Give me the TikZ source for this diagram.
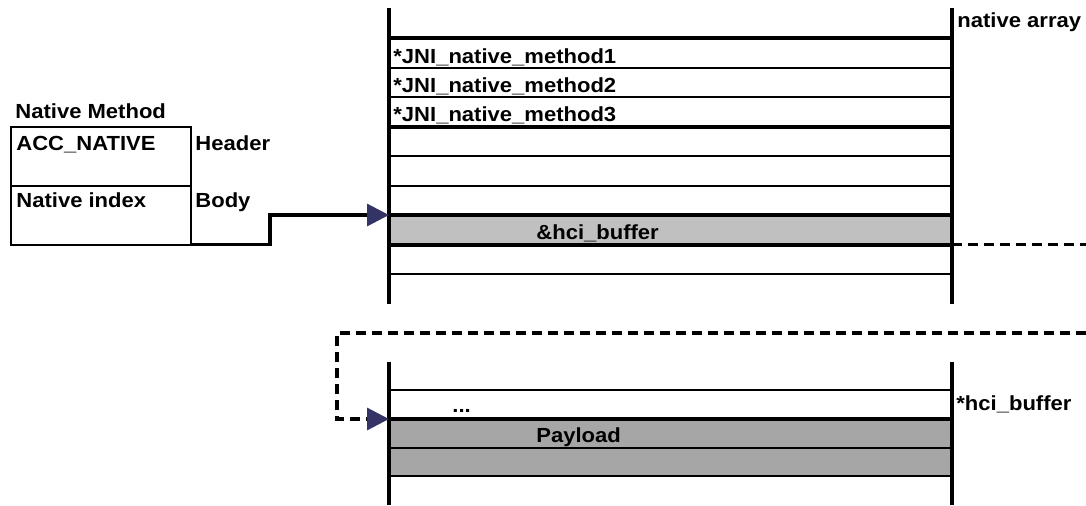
\documentclass[tikz,border=0pt]{standalone}
\usepackage{fontspec}
\setmainfont{Liberation Sans}[FakeStretch=1.08]
\usepackage{xcolor}
\usepackage{tikz}
\usetikzlibrary{arrows.meta, positioning}
\definecolor{ptrnavy}{HTML}{333366}
\definecolor{addrgray}{HTML}{C0C0C0}
\definecolor{bufgray}{HTML}{A6A6A6}
\tikzset{
  wall/.style={line width=2pt},
  thinrow/.style={line width=1pt},
  thickrow/.style={line width=2pt},
  field/.style={rectangle, draw, line width=1pt, outer sep=0pt, minimum width=90pt, minimum height=29.5pt, inner sep=0pt},
  slot/.style={rectangle, inner sep=0pt, outer sep=0pt, minimum width=281.5pt},
  lbl/.style={font=\fontsize{10.2}{12}\selectfont\bfseries, inner sep=0pt, anchor=base west},
  wire/.style={line width=1.6pt},
  dashwire/.style={wire, dash pattern=on 5pt off 3pt},
  navyhead/.style={-{Triangle[length=11pt, width=11pt, color=ptrnavy]}},
}

\begin{document}
\begin{tikzpicture}[x=0.5pt, y=-0.5pt]
\useasboundingbox (0,0) rectangle (1086,505);
% native method record
\node[field] (hdr) at (101,156) {};
\node[field, below=0pt of hdr] (bdy) {};
\node[lbl] (nmtitle) at (15,118) {Native Method};
\node[lbl] (acc) at (16,150) {ACC\_NATIVE}; \node[lbl] (hdrname) at (195,150) {Header};
\node[lbl] (idx) at (16,207) {Native index}; \node[lbl] (bdyname) at (195,207) {Body};
% native array
\node[slot, fill=addrgray, minimum height=14.75pt] (hcicell) at (670.5,229.75) {};
\draw[wall] (389,8) -- (389,303.5); \draw[wall] (952,8) -- (952,303.5);
\foreach \y in {67.5,97,156,185.5,274} \draw[thinrow] (389,\y) -- (952,\y);
\foreach \y in {38,126.5,215,244.5} \draw[thickrow] (389,\y) -- (952,\y);
\node[lbl] (arrname) at (957,27) {native array};
\node[lbl] (jni1) at (393,63) {*JNI\_native\_method1};
\node[lbl] (jni2) at (393,92) {*JNI\_native\_method2};
\node[lbl] (jni3) at (393,121) {*JNI\_native\_method3};
\node[lbl] (hciaddr) at (536,239) {\&hci\_buffer};
% hci buffer
\node[slot, fill=bufgray, minimum height=14.5pt] (payload) at (670.5,433.5) {};
\node[slot, fill=bufgray, minimum height=14pt] (bufrest) at (670.5,462) {};
\draw[wall] (389,362) -- (389,505); \draw[wall] (952,362) -- (952,505);
\foreach \y in {390,448,476} \draw[thinrow] (389,\y) -- (952,\y);
\draw[thickrow] (389,419) -- (952,419);
\node[lbl] (gap) at (452,412) {...};
\node[lbl] (payname) at (536,442) {Payload};
\node[lbl] (bufname) at (956,410) {*hci\_buffer};
% pointers
\coordinate (jog) at (270,244.5);
\coordinate (offright) at (1086,244.5); \coordinate (inright) at (1086,333); \coordinate (loop) at (337,419);
\draw[wire, navyhead] (bdy.south east) -- (jog) |- (hcicell.north west);
\draw[dashwire] (hcicell.south east) -- (offright);
\draw[dashwire, navyhead] (inright) -| (loop) -- (payload.north west);
\end{tikzpicture}
\end{document}
